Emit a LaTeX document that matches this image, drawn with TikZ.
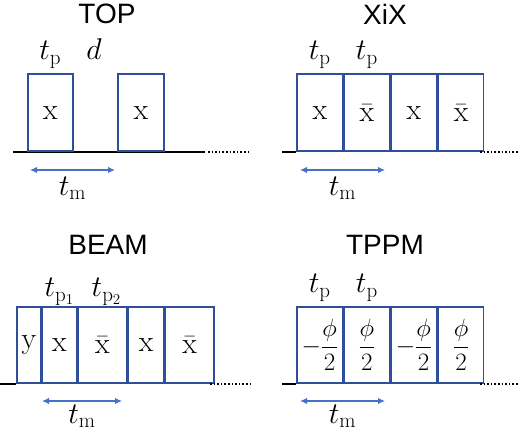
\RequirePackage{fix-cm}
\documentclass[tikz,border=0pt]{standalone}
\usepackage{amsmath,amssymb}
\usepackage{fontspec}
\usepackage{tikz}
\usetikzlibrary{arrows.meta,positioning}
\newfontfamily\titlefont{Liberation Sans}
\definecolor{boxblue}{HTML}{2F4F9C}
\definecolor{arrowblue}{HTML}{4472C4}

\begin{document}
\begin{tikzpicture}[x=1pt,y=-1pt,
			pulso/.style={draw=boxblue,line width=1.6pt,minimum height=77pt,inner sep=0pt,anchor=south west,font=\fontsize{30}{32}\selectfont},
			fase/.style={pulso,minimum height=76pt,font=\fontsize{25}{28}\selectfont},
			titulo/.style={font=\titlefont\fontsize{28}{30}\selectfont},
			etiq/.style={font=\fontsize{30}{32}\selectfont,inner sep=1pt},
			base/.style={line width=1.6pt},
			puntos/.style={line width=1.6pt,dotted},
			dur/.style={draw=arrowblue,line width=1.4pt,{Latex[length=7pt,width=6.5pt]}-{Latex[length=7pt,width=6.5pt]}}
			]
			\useasboundingbox (0,0) rectangle (520,435);
			% TOP
			\node[titulo] (tTop) at (107,14) {TOP};
			\coordinate (l1a) at (13,152);
			\coordinate (l1b) at (205,152);
			\coordinate (l1c) at (208,152);
			\coordinate (l1d) at (248,152);
			\draw[base] (l1a) -- (l1b);
			\draw[puntos] (l1c) -- (l1d);
			\node[pulso,minimum width=45pt] (top1) at (27,152) {$\mathrm{x}$};
			\node[pulso,minimum width=46pt] (top2) at (117,152) {$\mathrm{x}$};
			\node[etiq] (tp1) [above=4pt of top1] {$t_{\mathrm{p}}$};
			\node[etiq,anchor=base] (dd) at (tp1.base -| 94,0) {$d$};
			\coordinate (m1a) at (30,170);
			\coordinate (m1b) at (115,170);
			\draw[dur] (m1a) -- node[etiq,below=5pt] (tm1) {$t_{\mathrm{m}}$} (m1b);
			% XiX
			\node[titulo] (tXix) at (385,14) {XiX};
			\coordinate (l2a) at (282,152);
			\coordinate (l2c) at (480,152);
			\coordinate (l2d) at (518,152);
			\node[pulso,minimum width=46pt] (xix1) at (296,152) {$\mathrm{x}$};
			\node[pulso,minimum width=45pt] (xix2) [right=0pt of xix1] {$\bar{\mathrm{x}}$};
			\node[pulso,minimum width=46pt] (xix3) [right=0pt of xix2] {$\mathrm{x}$};
			\node[pulso,minimum width=45pt] (xix4) [right=0pt of xix3] {$\bar{\mathrm{x}}$};
			\draw[base] (l2a) -- (xix1.south west);
			\draw[puntos] (l2c) -- (l2d);
			\node[etiq] (tp2) [above=4pt of xix1] {$t_{\mathrm{p}}$};
			\node[etiq] (tp3) [above=4pt of xix2] {$t_{\mathrm{p}}$};
			\coordinate (m2a) at (300,170);
			\coordinate (m2b) at (385,170);
			\draw[dur] (m2a) -- node[etiq,below=5pt] (tm2) {$t_{\mathrm{m}}$} (m2b);
			% BEAM
			\node[titulo] (tBeam) at (108,245) {BEAM};
			\coordinate (l3a) at (0,384);
			\coordinate (l3c) at (210,384);
			\coordinate (l3d) at (250,384);
			\node[pulso,minimum width=24pt,minimum height=76pt] (bm1) at (16,384) {$\mathrm{y}$};
			\node[pulso,minimum width=34pt,minimum height=76pt] (bm2) [right=0pt of bm1] {$\mathrm{x}$};
			\node[pulso,minimum width=49pt,minimum height=76pt] (bm3) [right=0pt of bm2] {$\bar{\mathrm{x}}$};
			\node[pulso,minimum width=35pt,minimum height=76pt] (bm4) [right=0pt of bm3] {$\mathrm{x}$};
			\node[pulso,minimum width=49pt,minimum height=76pt] (bm5) [right=0pt of bm4] {$\bar{\mathrm{x}}$};
			\draw[base] (l3a) -- (bm1.south west);
			\draw[puntos] (l3c) -- (l3d);
			\node[etiq] (tp4) [above=0pt of bm2] {$t_{\mathrm{p}_1}$};
			\node[etiq] (tp5) [above=0pt of bm3,xshift=4pt] {$t_{\mathrm{p}_2}$};
			\coordinate (m3a) at (42,401);
			\coordinate (m3b) at (122,401);
			\draw[dur] (m3a) -- node[etiq,below=2pt] (tm3) {$t_{\mathrm{m}}$} (m3b);
			% TPPM
			\node[titulo] (tTppm) at (385,245) {TPPM};
			\coordinate (l4a) at (282,384);
			\coordinate (l4c) at (480,384);
			\coordinate (l4d) at (518,384);
			\node[fase,minimum width=46pt] (tp1b) at (296,384) {$-\dfrac{\phi}{2}$};
			\node[fase,minimum width=45pt] (tp2b) [right=0pt of tp1b] {$\dfrac{\phi}{2}$};
			\node[fase,minimum width=46pt] (tp3b) [right=0pt of tp2b] {$-\dfrac{\phi}{2}$};
			\node[fase,minimum width=45pt] (tp4b) [right=0pt of tp3b] {$\dfrac{\phi}{2}$};
			\draw[base] (l4a) -- (tp1b.south west);
			\draw[puntos] (l4c) -- (l4d);
			\node[etiq] (tp6) [above=4pt of tp1b] {$t_{\mathrm{p}}$};
			\node[etiq] (tp7) [above=4pt of tp2b] {$t_{\mathrm{p}}$};
			\coordinate (m4a) at (300,401);
			\coordinate (m4b) at (385,401);
			\draw[dur] (m4a) -- node[etiq,below=2pt] (tm4) {$t_{\mathrm{m}}$} (m4b);
		\end{tikzpicture}
\end{document}
